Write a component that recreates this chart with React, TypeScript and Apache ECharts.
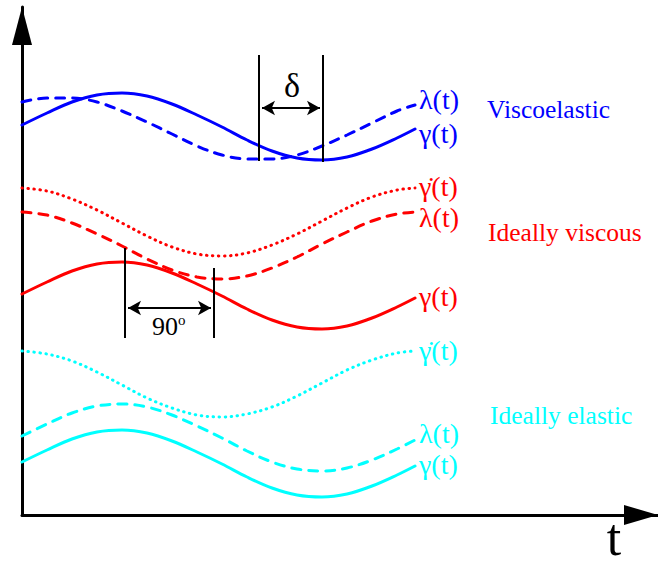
import React, { useEffect, useRef } from "react";
import * as echarts from "echarts";

// time samples (horizontal distance from the vertical axis)
const tValues = [0, 25, 50, 75, 100, 125, 150, 175, 200, 225, 250, 275, 300, 325, 350, 375, 393];

// Viscoelastic
const viscoGamma = [390, 402, 413, 420, 422, 419, 411, 400, 388, 375, 364, 357, 355, 358, 366, 377, 386];
const viscoLambda = [413, 417, 417, 413, 404, 393, 381, 369, 360, 356, 356, 360, 369, 380, 392, 404, 410];

// Ideally viscous
const viscousGammaDot = [327, 324, 316, 305, 292, 279, 268, 261, 259, 262, 270, 281, 294, 307, 318, 325, 327];
const viscousLambda = [303, 300, 292, 281, 269, 256, 245, 238, 236, 239, 247, 258, 271, 283, 294, 301, 303];
const viscousGamma = [221, 233, 244, 251, 253, 250, 242, 231, 219, 206, 195, 188, 186, 189, 197, 208, 217];

// Ideally elastic
const elasticGammaDot = [164, 161, 154, 143, 130, 117, 107, 100, 98, 101, 108, 119, 132, 145, 155, 162, 164];
const elasticLambda = [79, 91, 102, 109, 111, 108, 100, 89, 77, 64, 53, 46, 44, 47, 55, 66, 75];
const elasticGamma = [53, 65, 76, 83, 85, 82, 74, 63, 51, 38, 27, 20, 18, 21, 29, 40, 49];

const BLUE = "#0000ff";
const RED = "#ff0000";
const CYAN = "#00ffff";
const SERIF = "Liberation Serif";

const pairs = (ys: number[]) => tValues.map((t, i) => [t, ys[i]]);

const DASH = [9, 8];
const DOT = [0.5, 5.5];

function curve(name: string, ys: number[], color: string, type: any, extra: any = {}) {
  return {
    name,
    type: "line",
    data: pairs(ys),
    smooth: 0.35,
    symbol: "none",
    silent: true,
    lineStyle: { color, width: 3, type, cap: "round" },
    ...extra,
  };
}

const blackLine = { color: "#000", width: 2, type: "solid" };

function vline(x: number, y1: number, y2: number) {
  return [
    { coord: [x, y1], symbol: "none" },
    { coord: [x, y2], symbol: "none" },
  ];
}
function harrow(x1: number, x2: number, y: number) {
  return [
    { coord: [x1, y], symbol: "arrow" },
    { coord: [x2, y], symbol: "arrow" },
  ];
}

export default function App() {
  const ref = useRef<HTMLDivElement>(null);
  useEffect(() => {
    if (!ref.current) return;
    const chart = echarts.init(ref.current, null, { renderer: "svg" });
    const markBase = {
      silent: true,
      symbolSize: [11, 13],
      label: { show: false },
      lineStyle: blackLine,
      emphasis: { disabled: true },
      animation: false,
    };
    const label = (text: string, x: number, y: number, color: string, size = 28) => ({
      type: "text",
      x,
      y,
      style: {
        text,
        fill: color,
        fontSize: size,
        fontFamily: SERIF,
        verticalAlign: "middle",
        align: "left",
      },
    });
    chart.setOption({
      animation: false,
      grid: { left: 22, right: 0, top: 7, bottom: 52, containLabel: false },
      xAxis: {
        type: "value",
        min: 0,
        max: 636,
        axisLine: {
          show: true,
          onZero: false,
          symbol: ["none", "triangle"],
          symbolSize: [20, 34],
          symbolOffset: [0, -17],
          lineStyle: { color: "#000", width: 3 },
        },
        axisTick: { show: false },
        axisLabel: { show: false },
        splitLine: { show: false },
      },
      yAxis: {
        type: "value",
        min: 0,
        max: 508,
        axisLine: {
          show: true,
          onZero: false,
          symbol: ["none", "triangle"],
          symbolSize: [20, 38],
          symbolOffset: [0, -19],
          lineStyle: { color: "#000", width: 3 },
        },
        axisTick: { show: false },
        axisLabel: { show: false },
        splitLine: { show: false },
      },
      series: [
        curve("Viscoelastic λ(t)", viscoLambda, BLUE, DASH),
        curve("Viscoelastic γ(t)", viscoGamma, BLUE, "solid", {
          markLine: {
            ...markBase,
            data: [vline(237, 460, 354), vline(301, 460, 353), harrow(240, 298, 407)],
          },
        }),
        curve("Ideally viscous γ̇(t)", viscousGammaDot, RED, DOT),
        curve("Ideally viscous λ(t)", viscousLambda, RED, DASH),
        curve("Ideally viscous γ(t)", viscousGamma, RED, "solid", {
          markLine: {
            ...markBase,
            data: [vline(103, 267, 177), vline(192, 247, 177), harrow(106, 189, 207)],
          },
        }),
        curve("Ideally elastic γ̇(t)", elasticGammaDot, CYAN, DOT),
        curve("Ideally elastic λ(t)", elasticLambda, CYAN, DASH),
        curve("Ideally elastic γ(t)", elasticGamma, CYAN, "solid"),
      ],
      graphic: [
        label("λ(t)", 419, 99, BLUE),
        label("γ(t)", 419, 133, BLUE),
        label("Viscoelastic", 487, 109, BLUE, 25.5),
        label("γ̇(t)", 419, 186, RED),
        label("λ(t)", 419, 217, RED),
        label("Ideally viscous", 488, 232, RED, 25.5),
        label("γ(t)", 419, 296, RED),
        label("γ̇(t)", 419, 350, CYAN),
        label("Ideally elastic", 490, 415, CYAN, 25.5),
        label("λ(t)", 419, 433, CYAN),
        label("γ(t)", 419, 464, CYAN),
        {
          type: "text",
          x: 292,
          y: 85,
          style: { text: "δ", fill: "#000", fontSize: 34, fontFamily: SERIF, align: "center", verticalAlign: "middle" },
        },
        {
          type: "text",
          x: 152,
          y: 326,
          style: {
            text: "{n|90}{s|o}",
            fill: "#000",
            fontSize: 26,
            fontFamily: SERIF,
            verticalAlign: "middle",
            align: "left",
            rich: {
              n: { fontSize: 26, fontFamily: SERIF, fill: "#000", verticalAlign: "bottom" },
              s: { fontSize: 15, fontFamily: SERIF, fill: "#000", verticalAlign: "top", padding: [0, 0, 12, 0] },
            },
          },
        },
        {
          type: "text",
          x: 614,
          y: 537,
          style: {
            text: "t",
            fill: "#000",
            fontSize: 52,
            fontFamily: SERIF,
            align: "center",
            verticalAlign: "middle",
          },
        },
      ],
    });
    return () => chart.dispose();
  }, []);
  return <div ref={ref} style={{ width: 658, height: 567, position: "absolute", left: 0, top: 0 }} />;
}
